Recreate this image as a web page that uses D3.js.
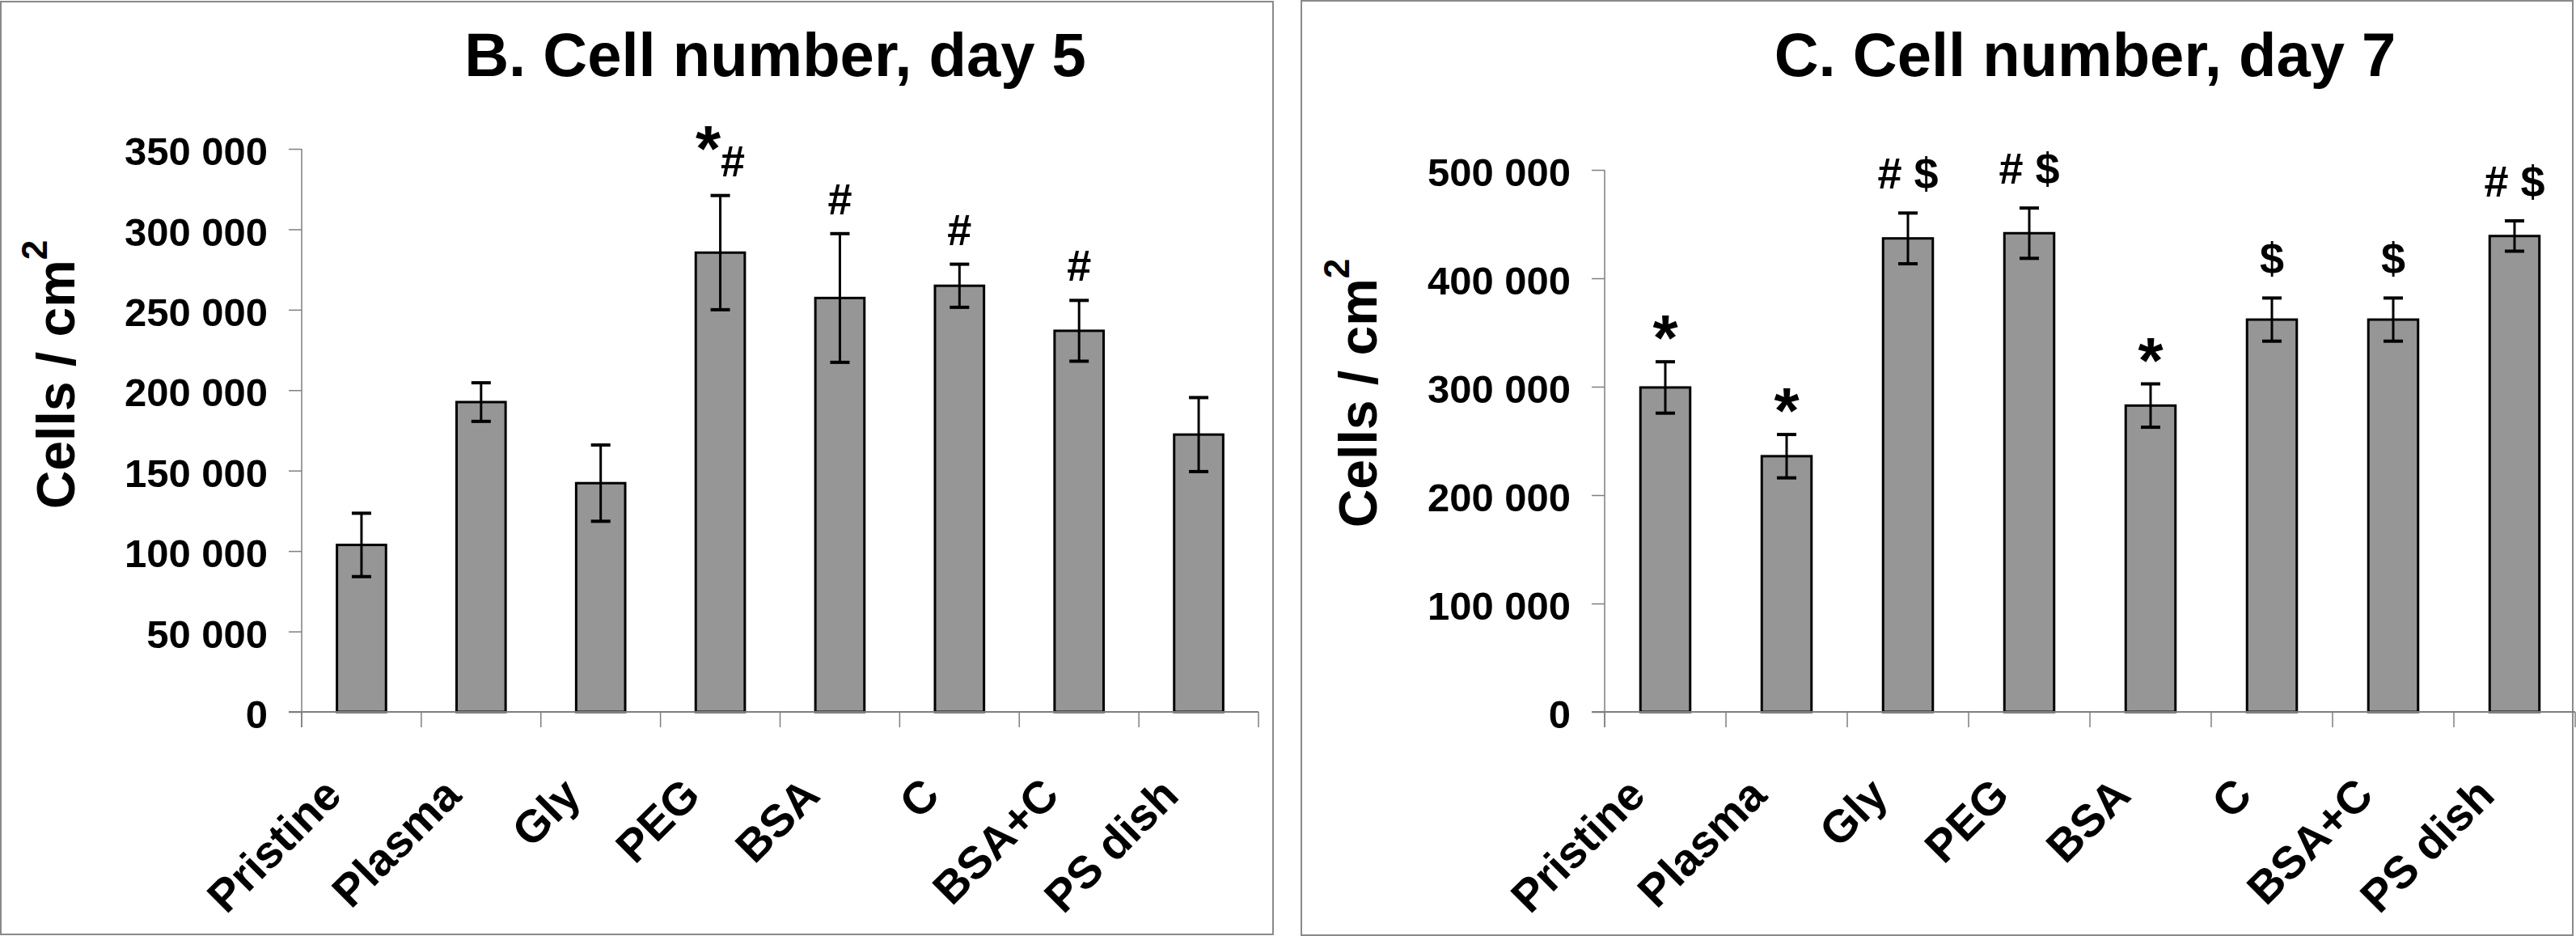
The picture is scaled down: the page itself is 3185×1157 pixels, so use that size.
<!DOCTYPE html>
<html><head><meta charset="utf-8">
<script src="https://cdn.jsdelivr.net/npm/d3@7"></script>
<style>
html,body{margin:0;padding:0;background:#fff;}
svg{display:block;}
text{font-family:"Liberation Sans",Arial,sans-serif;font-weight:bold;fill:#000;}
</style>
</head><body>
<svg id="chart" width="3185" height="1157"></svg>
<script>
// ---- data ----
const categories = ["Pristine", "Plasma", "Gly", "PEG", "BSA", "C", "BSA+C", "PS dish"];

const day5Values = [103800, 192600, 142200, 285500, 257300, 264900, 236900, 172400];
const day5Errors = [19700, 12000, 23700, 35500, 40000, 13400, 18900, 23000];
const day5Marks  = ["", "", "", "*#", "#", "#", "#", ""];
const day5Ticks  = [0, 50000, 100000, 150000, 200000, 250000, 300000, 350000];

const day7Values = [299300, 235900, 436800, 441600, 282600, 361900, 361900, 439000];
const day7Errors = [23700, 20000, 23400, 23200, 20000, 19900, 19900, 14000];
const day7Marks  = ["*", "*", "# $", "# $", "*", "$", "$", "# $"];
const day7Ticks  = [0, 100000, 200000, 300000, 400000, 500000];

const titles = ["B. Cell number, day 5", "C. Cell number, day 7"];
const yLabelMain = "Cells / cm";
const yLabelSup = "2";

// ---- layout ----
const svg = d3.select("#chart");
const fmt = v => d3.format(",")(v).replace(/,/g, " ");

const panels = [
  { title: titles[0], values: day5Values, errors: day5Errors, marks: day5Marks, ticks: day5Ticks,
    box: [1, 2, 1573, 1153], x0: 373, x1: 1556, yTop: 184, yBot: 880, ylx: 92, yly: 463,
    markGap: 24, starGap: 31 },
  { title: titles[1], values: day7Values, errors: day7Errors, marks: day7Marks, ticks: day7Ticks,
    box: [1609, 1, 1572, 1155], x0: 1984, x1: 3184, yTop: 210, yBot: 880, ylx: 1702, yly: 486,
    markGap: 30, starGap: 2 }
];

const GRAY = "#7f7f7f";

function drawPanel(p) {
  const g = svg.append("g");
  g.append("rect")
    .attr("x", p.box[0]).attr("y", p.box[1]).attr("width", p.box[2]).attr("height", p.box[3])
    .attr("fill", "#fff").attr("stroke", "#8a8a8a").attr("stroke-width", 2);

  const x = d3.scaleBand().domain(categories).range([p.x0, p.x1])
    .paddingInner(0.59).paddingOuter(0.295);
  const y = d3.scaleLinear().domain([0, d3.max(p.ticks)]).range([p.yBot, p.yTop]);

  // y axis
  const ya = g.append("g").attr("transform", `translate(${p.x0},0)`)
    .call(d3.axisLeft(y).tickValues(p.ticks).tickFormat(fmt).tickSize(16).tickPadding(26));
  ya.attr("font-family", '"Liberation Sans", Arial, sans-serif').attr("font-size", 49).attr("font-weight", "bold");
  ya.select(".domain").remove();
  ya.selectAll(".tick line").attr("stroke", GRAY).attr("stroke-width", 1.5);
  ya.selectAll(".tick text").attr("dy", "0.4em").attr("fill", "#000");
  g.append("line").attr("x1", p.x0).attr("x2", p.x0).attr("y1", p.yTop).attr("y2", p.yBot + 19)
    .attr("stroke", GRAY).attr("stroke-width", 1.5);

  // bars
  g.selectAll(".bar").data(categories).enter().append("rect")
    .attr("x", d => x(d)).attr("width", x.bandwidth())
    .attr("y", (d, i) => y(p.values[i]))
    .attr("height", (d, i) => y(0) - y(p.values[i]))
    .attr("fill", "#969696").attr("stroke", "#000").attr("stroke-width", 3);

  // x axis line + boundary ticks
  g.append("line").attr("x1", p.x0 - 16).attr("x2", p.x1).attr("y1", y(0)).attr("y2", y(0))
    .attr("stroke", GRAY).attr("stroke-width", 2);
  d3.range(categories.length + 1).forEach(i => {
    const bx = x.range()[0] + i * x.step();
    g.append("line").attr("x1", bx).attr("x2", bx).attr("y1", y(0)).attr("y2", y(0) + 19)
      .attr("stroke", GRAY).attr("stroke-width", 1.5);
  });

  // error bars
  const cap = 12;
  categories.forEach((c, i) => {
    const cx = x(c) + x.bandwidth() / 2;
    const hi = y(p.values[i] + p.errors[i]), lo = y(p.values[i] - p.errors[i]);
    g.append("line").attr("x1", cx).attr("x2", cx).attr("y1", hi).attr("y2", lo)
      .attr("stroke", "#000").attr("stroke-width", 3);
    [hi, lo].forEach(yy => g.append("line").attr("x1", cx - cap).attr("x2", cx + cap)
      .attr("y1", yy).attr("y2", yy).attr("stroke", "#000").attr("stroke-width", 4));

    // significance marks
    const m = p.marks[i];
    if (m) {
      const top = hi;
      const onlyStar = /^\*+$/.test(m);
      const base = top - (onlyStar ? p.starGap : p.markGap);
      const t = g.append("text").attr("x", cx).attr("y", base).attr("text-anchor", "middle");
      let prevStar = null;
      [...m].forEach(ch => {
        const isStar = ch === "*";
        const ts = t.append("tspan").text(ch).attr("font-size", isStar ? 80 : 54);
        if (!onlyStar && isStar) ts.attr("dy", -7);
        if (prevStar === true && !isStar) ts.attr("dy", 7);
        prevStar = isStar;
      });
    }
  });

  // category labels
  categories.forEach(c => {
    const cx = x(c) + x.bandwidth() / 2;
    g.append("text")
      .attr("transform", `translate(${cx - 22},${y(0) + 106}) rotate(-45)`)
      .attr("text-anchor", "end").attr("font-size", 56).text(c);
  });

  // title
  g.append("text").attr("x", (p.x0 + p.x1) / 2 - 6).attr("y", 94)
    .attr("text-anchor", "middle").attr("font-size", 76).text(p.title);

  // y label
  const yl = g.append("text").attr("transform", `translate(${p.ylx},${p.yly}) rotate(-90)`)
    .attr("text-anchor", "middle").attr("font-size", 66);
  yl.append("tspan").text(yLabelMain);
  yl.append("tspan").text(yLabelSup).attr("font-size", 44).attr("dy", -34);
}

panels.forEach(drawPanel);
</script>
</body></html>
